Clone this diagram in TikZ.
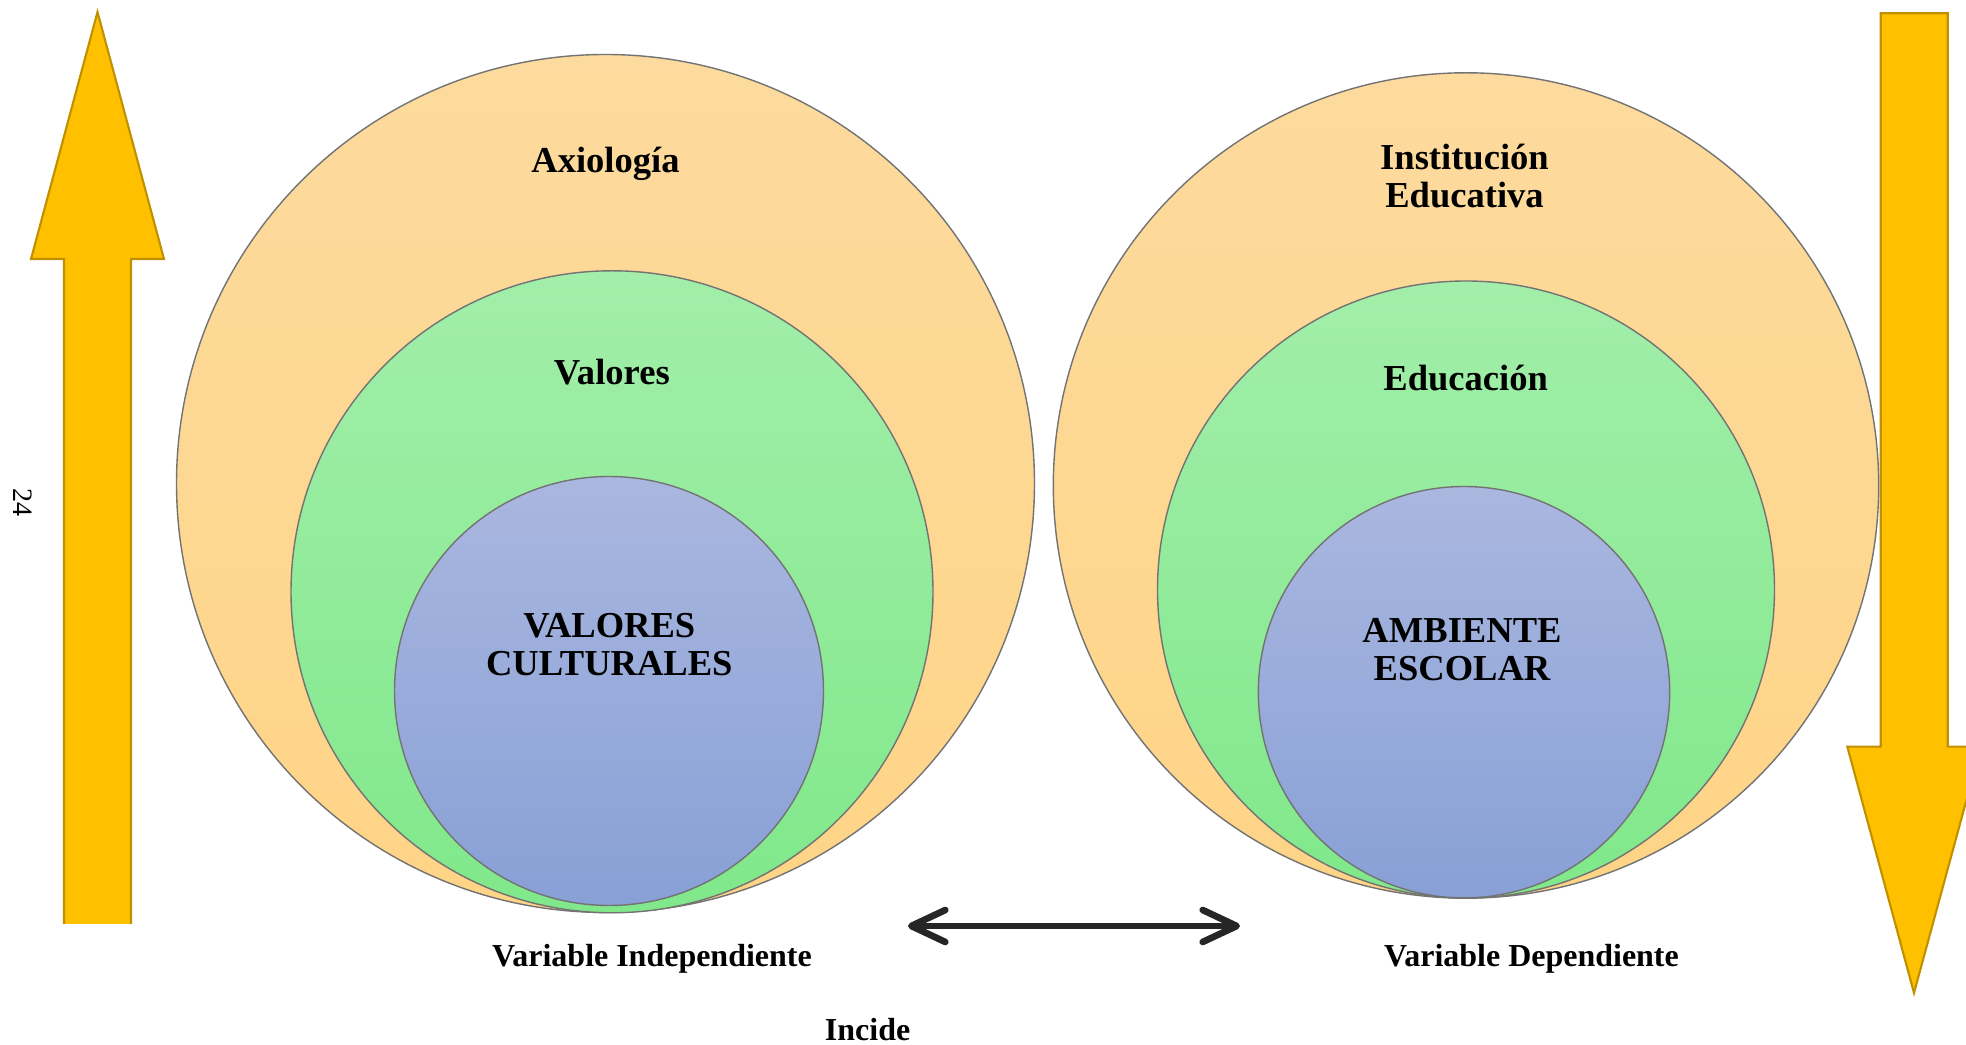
\documentclass[tikz,border=0pt]{standalone}
\usepackage{fontspec}
\setmainfont{Liberation Serif}
\usetikzlibrary{arrows.meta}

\definecolor{naranjaA}{RGB}{253,219,158}
\definecolor{naranjaB}{RGB}{254,212,134}
\definecolor{verdeA}{RGB}{162,238,170}
\definecolor{verdeB}{RGB}{128,232,138}
\definecolor{azulA}{RGB}{170,183,223}
\definecolor{azulB}{RGB}{136,160,214}
\definecolor{amarillo}{RGB}{255,192,0}
\definecolor{dorado}{RGB}{191,144,0}
\definecolor{trazo}{RGB}{38,38,38}

\tikzset{
    capa/.style={draw=black!55, line width=0.4pt},
    naranja/.style={capa, top color=naranjaA, bottom color=naranjaB},
    verde/.style={capa, top color=verdeA, bottom color=verdeB},
    azul/.style={capa, top color=azulA, bottom color=azulB},
    titulo/.style={font=\fontsize{10.4}{10.8}\selectfont\bfseries, align=center},
    rotulo/.style={font=\fontsize{9.1}{11}\selectfont\bfseries},
    borde/.style={draw=dorado, line width=0.6pt, line join=miter}
}

\begin{document}
\begin{tikzpicture}[x=0.1mm, y=-0.1mm]
    \useasboundingbox (0,0) rectangle (1966,1045);
    \clip (0,0) rectangle (1966,1045);

    % Flecha izquierda
    \fill[amarillo] (64,924) -- (64,259) -- (31,259) -- (97.5,12) -- (164,259) -- (131,259) -- (131,924) -- cycle;
    \draw[borde] (64,924) -- (64,259) -- (31,259) -- (97.5,12) -- (164,259) -- (131,259) -- (131,924);
    \node[rotate=-90, font=\fontsize{8}{9}\selectfont] (pagina) at (23,503) {24};

    % Flecha derecha
    \filldraw[amarillo, borde] (1880.7,13.3) -- (1947.7,13.3) -- (1947.7,746.7) -- (1981,746.7)
        -- (1914,993) -- (1847.3,746.7) -- (1880.7,746.7) -- cycle;

    % Variable independiente
    \begin{scope}[shift={(605.5,483.5)}]
        \draw[naranja] (0,0) circle[radius=42.9mm];
        \draw[verde] (6.5,108.3) circle[radius=32.1mm];
        \draw[azul] (3.5,207.5) circle[radius=21.45mm];
        \node[titulo] (axiologia) at (0,-320) {Axiología};
        \node[titulo] (valores) at (6.3,-111) {Valores};
        \node[titulo] (culturales) at (3.8,161) {VALORES\\CULTURALES};
        \node[rotulo] (indep) at (46.5,475.5) {Variable Independiente};
    \end{scope}

    % Variable dependiente
    \begin{scope}[shift={(1466,485.5)}]
        \draw[naranja] (0,0) circle[radius=41.27mm];
        \draw[verde] (0,104) circle[radius=30.85mm];
        \draw[azul] (-2,206.7) circle[radius=20.57mm];
        \node[titulo] (institucion) at (-1.5,-309) {Institución\\Educativa};
        \node[titulo] (educacion) at (-0.3,-107.5) {Educación};
        \node[titulo] (ambiente) at (-4,164) {AMBIENTE\\ESCOLAR};
        \node[rotulo] (dep) at (65.5,473.5) {Variable Dependiente};
    \end{scope}

    % Incide
    \coordinate (incA) at (908,926);
    \coordinate (incB) at (1240,926);
    \draw[trazo, line width=1.9pt, {Straight Barb[length=3.4mm,width=3.2mm,round]}-{Straight Barb[length=3.4mm,width=3.2mm,round]}] (incA) -- (incB);
    \node[rotulo] (incide) at (867.6,1030) {Incide};
\end{tikzpicture}
\end{document}
